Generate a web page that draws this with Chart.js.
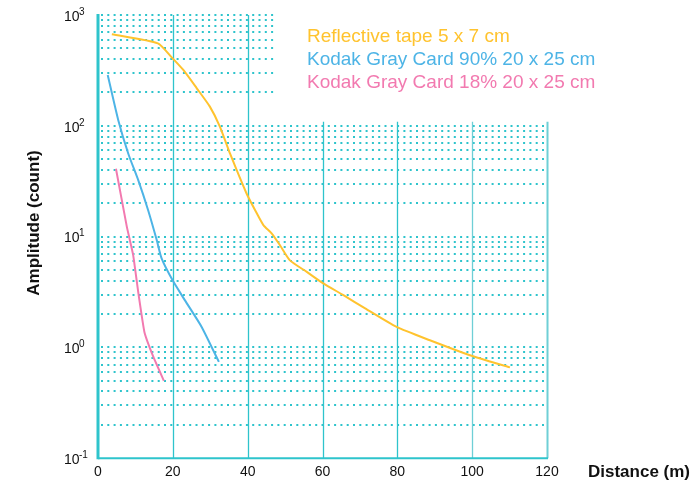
<!DOCTYPE html>
<html>
<head>
<meta charset="utf-8">
<script src="https://cdn.jsdelivr.net/npm/chart.js@4"></script>
<style>
  body { margin: 0; background: #fff; }
  #wrap { width: 693px; height: 484px; }
</style>
</head>
<body>
<div id="wrap"><canvas id="amp"></canvas></div>
<script>
// distances (m) and amplitudes (count)
var tapeX = [3.7, 16, 19.7, 22.8, 26.4, 29.9, 32.6, 35.3, 39.7, 42, 44.2, 46.4, 48.6, 51.3, 55.8, 60.2, 65.6, 71.4, 79.8, 88.7, 99.4, 110.1];
var tapeY = [670, 555, 415, 319, 218, 149, 98, 56, 24.5, 17.3, 12.7, 10.7, 8.4, 6.1, 4.8, 3.78, 2.96, 2.25, 1.53, 1.16, 0.85, 0.66];

var gray90X = [2.6, 5.4, 8.1, 10.8, 13.4, 15.7, 17.0, 19.9, 23.2, 27.7, 32.3];
var gray90Y = [287, 113, 56, 32, 17.3, 9.3, 6.35, 4.05, 2.67, 1.53, 0.74];

var gray18X = [4.8, 7.7, 9.4, 10.8, 12.4, 14.8, 17.6];
var gray18Y = [41, 12.3, 6.8, 3.07, 1.38, 0.82, 0.50];

var labels = ['Reflective tape 5 x 7 cm', 'Kodak Gray Card 90% 20 x 25 cm', 'Kodak Gray Card 18% 20 x 25 cm'];
var colors = ['#FFC32E', '#4DB4E6', '#F27AB0'];

var decades = [-1, 0, 1, 2, 3];
var xGrid = [20, 40, 60, 80, 100, 120];

function pts(xs, ys) {
  return xs.map(function (x, i) { return { x: x, y: ys[i] }; });
}

var teal = '#2EC4CC';
var font = '"Liberation Sans", Arial, sans-serif';

var gridPlugin = {
  id: 'gridPlugin',
  beforeDatasetsDraw: function (chart) {
    var c = chart.ctx, xs = chart.scales.x, ys = chart.scales.y;
    var left = xs.getPixelForValue(0), right = xs.getPixelForValue(120);
    var shortRight = xs.getPixelForValue(47);
    c.save();
    // dotted horizontal lines (top decade only reaches ~47 m)
    c.strokeStyle = teal;
    c.lineWidth = 2;
    c.setLineDash([2, 4.3]);
    for (var d = -1; d <= 2; d++) {
      for (var m = 1; m <= 9; m++) {
        var v = m * Math.pow(10, d);
        if (v <= 0.1) continue;
        var y = Math.round(ys.getPixelForValue(v));
        var r = v > 100 ? shortRight : right;
        c.beginPath(); c.moveTo(left + 3, y); c.lineTo(r, y); c.stroke();
      }
    }
    var y3 = Math.round(ys.getPixelForValue(1000));
    c.beginPath(); c.moveTo(left + 3, y3); c.lineTo(shortRight, y3); c.stroke();
    c.setLineDash([]);
    // vertical lines
    var top = ys.getPixelForValue(1000), mid = ys.getPixelForValue(100), bottom = ys.getPixelForValue(0.1);
    xGrid.forEach(function (xv) {
      var x = Math.round(xs.getPixelForValue(xv)) + 0.5;
      c.strokeStyle = xv >= 100 ? '#6FCFD6' : teal;
      c.lineWidth = xv === 120 ? 2 : 1.3;
      c.beginPath(); c.moveTo(x, xv <= 40 ? top : mid - 4); c.lineTo(x, bottom); c.stroke();
    });
    // axes
    c.strokeStyle = teal;
    c.lineWidth = 3;
    c.beginPath(); c.moveTo(left, top - 1); c.lineTo(left, bottom + 1); c.stroke();
    c.lineWidth = 2;
    c.beginPath(); c.moveTo(left, bottom); c.lineTo(right + 1, bottom); c.stroke();
    c.restore();
  },
  afterDraw: function (chart) {
    var c = chart.ctx, ys = chart.scales.y;
    c.save();
    c.fillStyle = '#111';
    c.textBaseline = 'middle';
    c.textAlign = 'left';
    decades.forEach(function (d) {
      var y = ys.getPixelForValue(Math.pow(10, d));
      c.font = '14px ' + font;
      c.fillText('10', 64, y + 2);
      c.font = '10px ' + font;
      c.fillText(String(d), 79, y - 3);
    });
    // axis titles
    c.font = 'bold 17px ' + font;
    c.fillText('Distance (m)', 588, 472);
    c.translate(34, 223);
    c.rotate(-Math.PI / 2);
    c.textAlign = 'center';
    c.fillText('Amplitude (count)', 0, 0);
    c.restore();
    // legend text
    c.save();
    c.font = '19px ' + font;
    c.textBaseline = 'middle';
    labels.forEach(function (t, i) {
      c.fillStyle = colors[i];
      c.fillText(t, 307, 37 + i * 23);
    });
    c.restore();
  }
};

var ctx = document.getElementById('amp').getContext('2d');
var myChart = new Chart(ctx, {
  type: 'line',
  data: {
    datasets: [
      { label: labels[0], data: pts(tapeX, tapeY), borderColor: colors[0], borderWidth: 2, pointRadius: 0, tension: 0.2, fill: false },
      { label: labels[1], data: pts(gray90X, gray90Y), borderColor: colors[1], borderWidth: 2, pointRadius: 0, tension: 0.2, fill: false },
      { label: labels[2], data: pts(gray18X, gray18Y), borderColor: colors[2], borderWidth: 2, pointRadius: 0, tension: 0.1, fill: false }
    ]
  },
  options: {
    responsive: true,
    maintainAspectRatio: false,
    animation: false,
    layout: { padding: { left: 98, right: 146, top: 15, bottom: -3 } },
    plugins: {
      legend: { display: false },
      tooltip: { enabled: false }
    },
    scales: {
      x: {
        type: 'linear',
        min: 0,
        max: 120,
        grid: { display: false, drawTicks: false },
        border: { display: false },
        ticks: {
          stepSize: 20,
          padding: 6,
          color: '#111',
          font: { family: font, size: 14 }
        }
      },
      y: {
        type: 'logarithmic',
        min: 0.1,
        max: 1000,
        grid: { display: false, drawTicks: false },
        border: { display: false },
        ticks: { display: false }
      }
    }
  },
  plugins: [gridPlugin]
});
</script>
</body>
</html>
